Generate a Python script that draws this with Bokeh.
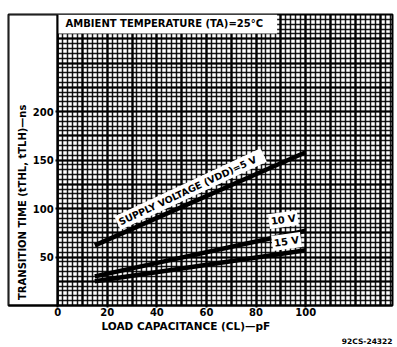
from bokeh.plotting import figure
from bokeh.models import Range1d, FixedTicker, Label, Title
from bokeh.embed import file_html
from bokeh.resources import INLINE

# ---- data ----
cap_pf = [15, 100]
t_5v = [62, 158]
t_10v = [30, 77]
t_15v = [25, 57]

x_ticks = [0, 20, 40, 60, 80, 100]
y_ticks = [50, 100, 150, 200]

title_text = "AMBIENT  TEMPERATURE  (TA)=25°C"
x_label = "LOAD  CAPACITANCE  (CL)—pF"
y_label = "TRANSITION  TIME  (tTHL, tTLH)—ns"
code_text = "92CS-24322"

FONT = "DejaVu Sans"

p = figure(width=394, height=347, output_backend="svg", toolbar_location=None,
           x_range=Range1d(-19.8, 135), y_range=Range1d(0, 300),
           min_border_left=8, min_border_right=2, min_border_top=14, min_border_bottom=42,
           background_fill_color="white", border_fill_color="white")

p.outline_line_color = "black"
p.outline_line_width = 2

# graph-paper grid
p.xgrid.ticker = FixedTicker(ticks=list(range(0, 140, 10)), minor_ticks=list(range(0, 136, 2)))
p.ygrid.ticker = FixedTicker(ticks=list(range(0, 301, 25)), minor_ticks=list(range(0, 301, 5)))
for g in (p.xgrid, p.ygrid):
    g.grid_line_color = "black"
    g.grid_line_width = 2.2
    g.grid_line_alpha = 1.0
    g.minor_grid_line_color = "black"
    g.minor_grid_line_width = 1.5
    g.minor_grid_line_alpha = 0.9

# white margin box at left and title band
p.quad(left=[-19.8], right=[0], bottom=[0], top=[300], fill_color="white",
       line_color="black", line_width=2)
p.quad(left=[0], right=[88.5], bottom=[280.5], top=[300], fill_color="white",
       line_color=None)

# curves
for ys in (t_5v, t_10v, t_15v):
    p.line(cap_pf, ys, line_color="black", line_width=4.5)

# axes
p.xaxis.ticker = FixedTicker(ticks=x_ticks)
p.yaxis.ticker = FixedTicker(ticks=y_ticks)
p.yaxis.fixed_location = 0
for ax in (p.xaxis, p.yaxis):
    ax.axis_line_color = "black"
    ax.axis_line_width = 2
    ax.major_tick_line_color = "black"
    ax.major_tick_line_width = 2
    ax.major_tick_out = 2
    ax.major_tick_in = 0
    ax.minor_tick_line_color = None
    ax.major_label_text_font = FONT
    ax.major_label_text_font_style = "bold"
    ax.major_label_text_font_size = "10px"
    ax.major_label_text_color = "black"
p.xaxis.major_label_standoff = 0
p.yaxis.major_label_standoff = 2
p.xaxis.axis_label = x_label + "\u00a0" * 6
p.xaxis.axis_label_text_font = FONT
p.xaxis.axis_label_text_font_style = "bold"
p.xaxis.axis_label_text_font_size = "10.5px"
p.xaxis.axis_label_text_color = "black"
p.xaxis.axis_label_standoff = 1

p.add_layout(Title(text=code_text, align="right", text_font=FONT, text_font_style="bold",
                   text_font_size="7.5px", text_color="black", standoff=0), "below")

# annotations
p.add_layout(Label(x=3.2, y=290.5, text=title_text, text_font=FONT, text_font_style="bold",
                   text_font_size="10px", text_color="black", text_baseline="middle"))
p.add_layout(Label(x=-14.3, y=110, text=y_label, text_font=FONT, text_font_style="bold",
                   text_font_size="10px", text_color="black", text_align="center",
                   text_baseline="middle", angle=90, angle_units="deg"))
p.add_layout(Label(x=53.6, y=120, text="SUPPLY  VOLTAGE  (VDD)=5 V", text_font=FONT,
                   text_font_style="bold", text_font_size="9.5px", text_color="black",
                   text_align="center", text_baseline="middle", angle=25, angle_units="deg",
                   background_fill_color="white", padding=2))
p.add_layout(Label(x=91, y=88.5, text="10 V", text_font=FONT, text_font_style="bold",
                   text_font_size="10px", text_color="black", text_align="center",
                   text_baseline="middle", angle=8, angle_units="deg",
                   background_fill_color="white", padding=2))
p.add_layout(Label(x=92.3, y=66, text="15 V", text_font=FONT, text_font_style="bold",
                   text_font_size="10px", text_color="black", text_align="center",
                   text_baseline="middle", angle=8, angle_units="deg",
                   background_fill_color="white", padding=2))

open("out.html", "w").write(file_html(p, INLINE))
